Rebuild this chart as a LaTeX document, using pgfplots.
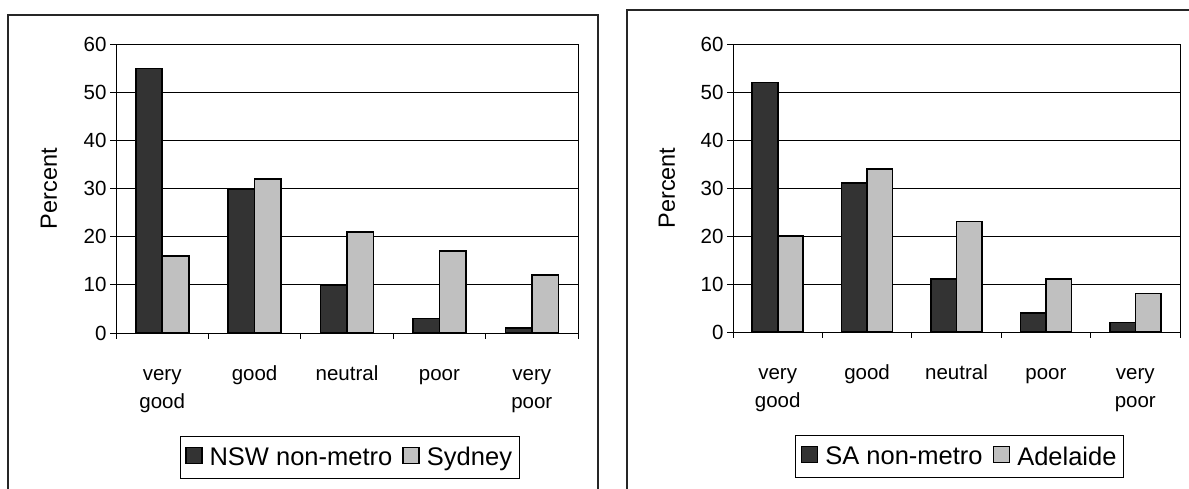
\documentclass[border=0pt]{standalone}
\usepackage{fontspec}
\setmainfont{Liberation Sans}
\newfontfamily\plainsans{Liberation Sans}
\usepackage{pgfplots}
\pgfplotsset{compat=1.18}
\definecolor{darkbar}{HTML}{333333}
\definecolor{lightbar}{HTML}{C0C0C0}

\pgfplotsset{
  panel/.style={
    scale only axis,
    ymin=0, ymax=60, ytick={0,10,...,60},
    xmin=-0.5, xmax=4.5,
    ybar=0pt,
    ymajorgrids, grid style={black, line width=0.9pt},
    axis line style={black, line width=0.9pt},
    tick style={black, line width=0.9pt},
    tick align=outside, major tick length=6pt,
    xtick pos=bottom, ytick pos=left,
    xtick={-0.5,0.5,...,4.5}, xticklabels={},
    extra x ticks={0,1,2,3,4},
    extra x tick labels={\strut very\\\strut good,\strut good\\\strut,\strut neutral\\\strut,\strut poor\\\strut,\strut very\\\strut poor},
    extra x tick style={major tick length=0pt, grid=none,
      tick label style={align=center, anchor=north, yshift=-25pt,
        font=\fontsize{20.5}{27.5}\selectfont}},
    /pgf/number format/assume math mode=true,
    yticklabel style={font=\fontsize{20.5}{22}\selectfont},
    ylabel={Percent},
    legend columns=2,
    legend style={draw=black, line width=0.9pt, anchor=north,
      font=\fontsize{25.5}{27}\selectfont,
      inner xsep=5pt, inner ysep=9pt,
      /tikz/every even column/.append style={column sep=8pt}},
  },
  barimg/.style={legend image code/.code={\draw[##1, line width=1.6pt] (0pt,-6pt) rectangle (16pt,10pt); \path (21pt,2pt);}},
}

\begin{document}
\begin{tikzpicture}
\path[use as bounding box] (0pt,0pt) rectangle (1189pt,489pt);
\draw[line width=1.5pt, black!85] (8pt,-5pt) -- (8pt,474pt) -- (598pt,474pt) -- (598pt,-5pt);
\draw[line width=1.5pt, black!85] (627pt,-5pt) -- (627pt,479pt) -- (1195pt,479pt);

\begin{axis}[panel, at={(116pt,156pt)}, anchor=south west,
  width=462pt, height=288.5pt, bar width=26.5pt,
  every axis y label/.style={at={(axis description cs:-0.145,0.5)}, rotate=90, anchor=center,
    font=\plainsans\fontsize{23.5}{25}\selectfont},
  legend style={at={(0.5054,-0.357)}}]
\addplot[barimg, fill=darkbar, draw=black, line width=1.6pt] coordinates {(0,55) (1,30) (2,10) (3,3) (4,1)};
\addplot[barimg, fill=lightbar, draw=black, line width=1.6pt] coordinates {(0,16) (1,32) (2,21) (3,17) (4,12)};
\legend{NSW non-metro, Sydney}
\end{axis}

\begin{axis}[panel, at={(733pt,157pt)}, anchor=south west,
  width=447pt, height=288pt, bar width=25.5pt,
  every axis y label/.style={at={(axis description cs:-0.148,0.5)}, rotate=90, anchor=center,
    font=\plainsans\fontsize{23.5}{25}\selectfont},
  legend style={at={(0.507,-0.358)}}]
\addplot[barimg, fill=darkbar, draw=black, line width=1.6pt] coordinates {(0,52) (1,31) (2,11) (3,4) (4,2)};
\addplot[barimg, fill=lightbar, draw=black, line width=1.6pt] coordinates {(0,20) (1,34) (2,23) (3,11) (4,8)};
\legend{SA non-metro, Adelaide}
\end{axis}
\end{tikzpicture}
\end{document}
